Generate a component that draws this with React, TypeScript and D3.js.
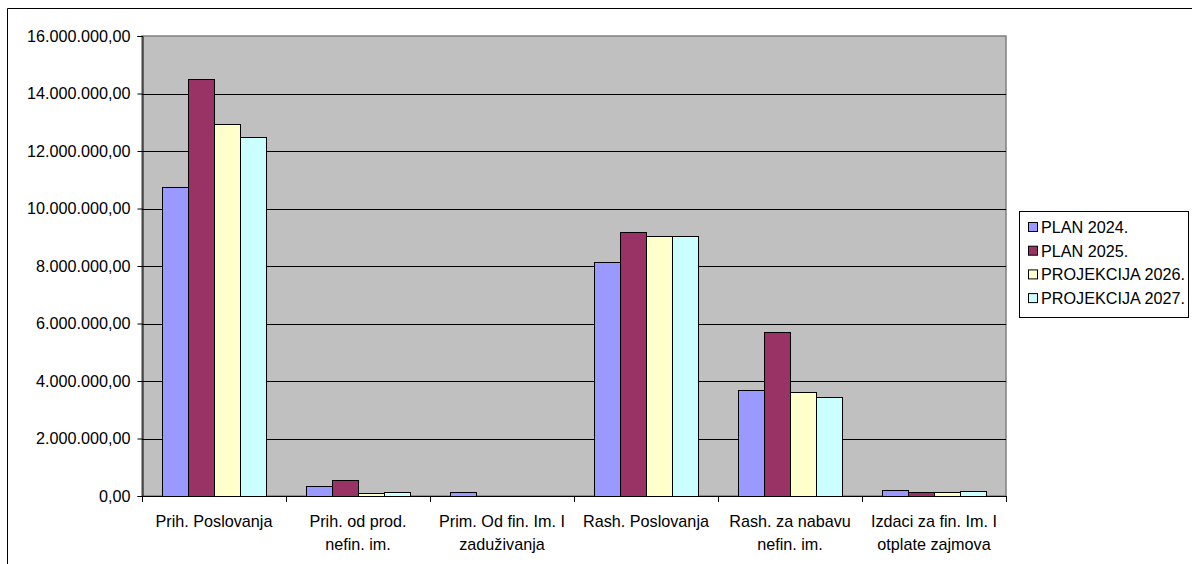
import { useEffect, useRef } from 'react';
import * as d3 from 'd3';

// values
const categories = [
  'Prih. Poslovanja',
  'Prih. od prod.\nnefin. im.',
  'Prim. Od fin. Im. I\nzaduživanja',
  'Rash. Poslovanja',
  'Rash. za nabavu\nnefin. im.',
  'Izdaci za fin. Im. I\notplate zajmova',
];
const seriesNames = ['PLAN 2024.', 'PLAN 2025.', 'PROJEKCIJA 2026.', 'PROJEKCIJA 2027.'];
const plan2024 = [10750000, 360000, 130000, 8150000, 3690000, 220000];
const plan2025 = [14490000, 570000, 0, 9170000, 5690000, 150000];
const proj2026 = [12930000, 120000, 0, 9050000, 3610000, 150000];
const proj2027 = [12480000, 140000, 0, 9050000, 3430000, 160000];
const seriesColors = ['#9999FF', '#993366', '#FFFFCC', '#CCFFFF'];
const yTicks = [0, 2000000, 4000000, 6000000, 8000000, 10000000, 12000000, 14000000, 16000000];

const W = 1192;
const H = 564;
const FONT = "'Liberation Sans', Arial, sans-serif";
const FS = 16.2;

function drawChart(el: SVGSVGElement) {
  const svg = d3.select(el);
  svg.selectAll('*').remove();

  const series = [plan2024, plan2025, proj2026, proj2027];
  const plot = { left: 142, right: 1006, top: 36, bottom: 496 };

  const num = d3.formatLocale({ decimal: ',', thousands: '.', grouping: [3], currency: ['', ''] }).format(',.2f');

  const x = d3.scaleBand<string>().domain(categories).range([plot.left, plot.right]);
  const xInner = d3
    .scaleBand<string>()
    .domain(seriesNames)
    .range([0, x.bandwidth()])
    .paddingOuter(0.75);
  const y = d3.scaleLinear().domain([0, 16000000]).range([plot.bottom, plot.top]);

  // outer frame (only top and left edges are in view)
  svg
    .append('path')
    .attr('d', `M7.5,${H} V8.5 H${W}`)
    .attr('fill', 'none')
    .attr('stroke', '#000')
    .attr('stroke-width', 1);

  // plot background
  svg
    .append('rect')
    .attr('x', plot.left)
    .attr('y', plot.top)
    .attr('width', plot.right - plot.left)
    .attr('height', plot.bottom - plot.top)
    .attr('fill', '#C0C0C0')
    .attr('stroke', '#808080')
    .attr('stroke-width', 1.5);

  // gridlines
  svg
    .append('g')
    .selectAll('line')
    .data(yTicks.filter((t) => t > 0 && t < 16000000))
    .join('line')
    .attr('x1', plot.left)
    .attr('x2', plot.right)
    .attr('y1', (d) => Math.round(y(d)) + 0.5)
    .attr('y2', (d) => Math.round(y(d)) + 0.5)
    .attr('stroke', '#000')
    .attr('stroke-width', 1);

  // bars
  const groups = svg
    .append('g')
    .selectAll('g')
    .data(series)
    .join('g')
    .attr('fill', (_, i) => seriesColors[i]);
  groups
    .selectAll('rect')
    .data((vals, si) => vals.map((v, ci) => ({ v, ci, si })))
    .join('rect')
    .filter((d) => d.v > 0)
    .attr('x', (d) => Math.round(x(categories[d.ci])! + xInner(seriesNames[d.si])!) + 0.5)
    .attr('y', (d) => Math.round(y(d.v)) + 0.5)
    .attr('width', Math.round(xInner.bandwidth()))
    .attr('height', (d) => Math.round(y(0)) - Math.round(y(d.v)))
    .attr('stroke', '#000')
    .attr('stroke-width', 1);

  // y axis
  const yAxis = svg
    .append('g')
    .attr('transform', `translate(${plot.left + 0.5},0)`)
    .call(d3.axisLeft(y).tickValues(yTicks).tickSize(5).tickPadding(7).tickFormat((d) => num(+d)));
  yAxis.selectAll('path,line').attr('stroke', '#000');
  yAxis.selectAll('text').attr('font-size', FS).attr('font-family', FONT).attr('fill', '#000');

  // x axis line and category boundary ticks
  svg
    .append('line')
    .attr('x1', plot.left)
    .attr('x2', plot.right)
    .attr('y1', plot.bottom + 0.5)
    .attr('y2', plot.bottom + 0.5)
    .attr('stroke', '#000');
  const bounds = categories.map((c) => x(c)!).concat([plot.right]);
  svg
    .append('g')
    .selectAll('line')
    .data(bounds)
    .join('line')
    .attr('x1', (d) => Math.round(d) + 0.5)
    .attr('x2', (d) => Math.round(d) + 0.5)
    .attr('y1', plot.bottom)
    .attr('y2', plot.bottom + 6)
    .attr('stroke', '#000');

  // category labels
  const labels = svg
    .append('g')
    .selectAll('text')
    .data(categories)
    .join('text')
    .attr('x', (d) => x(d)! + x.bandwidth() / 2)
    .attr('y', 527)
    .attr('text-anchor', 'middle')
    .attr('font-size', FS)
    .attr('font-family', FONT)
    .attr('fill', '#000');
  labels
    .selectAll('tspan')
    .data((d) => d.split('\n'))
    .join('tspan')
    .attr('x', function () {
      return (this.parentNode as SVGTextElement).getAttribute('x');
    })
    .attr('dy', (_, i) => (i === 0 ? 0 : 23))
    .text((d) => d);

  // legend
  const legend = svg.append('g');
  legend
    .append('rect')
    .attr('x', 1019.5)
    .attr('y', 211.5)
    .attr('width', 169)
    .attr('height', 106)
    .attr('fill', '#fff')
    .attr('stroke', '#000');
  const rows = legend
    .selectAll('g')
    .data(seriesNames)
    .join('g')
    .attr('transform', (_, i) => `translate(0,${227 + i * 23.7})`);
  rows
    .append('rect')
    .attr('x', 1028.5)
    .attr('y', -4.5)
    .attr('width', 9)
    .attr('height', 9)
    .attr('fill', (_, i) => seriesColors[i])
    .attr('stroke', '#000');
  rows
    .append('text')
    .attr('x', 1041)
    .attr('y', 5.8)
    .attr('font-size', FS)
    .attr('font-family', FONT)
    .attr('fill', '#000')
    .text((d) => d);
}

export default function App() {
  const ref = useRef<SVGSVGElement>(null);
  useEffect(() => {
    if (ref.current) drawChart(ref.current);
  }, []);
  return (
    <svg
      ref={ref}
      width={W}
      height={H}
      style={{ position: 'absolute', left: 0, top: 0, background: '#fff' }}
    />
  );
}
